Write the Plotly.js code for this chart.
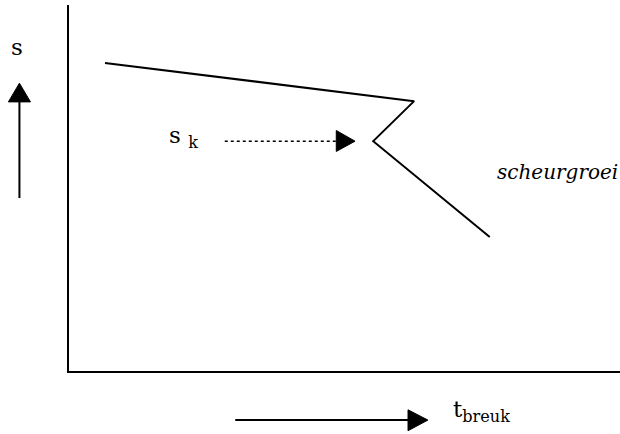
<!DOCTYPE html>
<html>
<head>
<meta charset="utf-8">
<script src="https://cdn.plot.ly/plotly-3.0.1.min.js"></script>
<style>
  html, body { margin: 0; padding: 0; background: #fff; }
  #chart { width: 620px; height: 434px; }
</style>
</head>
<body>
<div id="chart"></div>
<script>
// Schematic: stress s against time to fracture (t_breuk)
// units: axis corner is (0,0), axes run to 10

// the two drawn axes
const axisX = [0, 0, 10];
const axisY = [10, 0, 0];

// the stress curve with the kink (scheurgroei branch)
const curveX = [0.67, 6.27, 5.53, 7.64];
const curveY = [8.42, 7.38, 6.29, 3.68];

// arrow shafts
const sArrowX = [-0.88, -0.88];
const sArrowY = [4.74, 7.40];
const skArrowX = [2.84, 4.90];
const skArrowY = [6.29, 6.29];
const tArrowX = [3.03, 6.20];
const tArrowY = [-1.31, -1.31];

// arrow heads (triangles)
const sHeadX = [-1.08, -0.68, -0.88, -1.08];
const sHeadY = [7.36, 7.36, 7.87, 7.36];
const skHeadX = [4.86, 4.86, 5.20, 4.86];
const skHeadY = [6.58, 6.01, 6.29, 6.58];
const tHeadX = [6.16, 6.16, 6.52, 6.16];
const tHeadY = [-1.03, -1.60, -1.31, -1.03];

// labels
const labelText = ['s', 's <sub>k</sub>', '<i>scheurgroei</i>', 't<sub>breuk</sub>'];
const labelX = [-0.93, 1.79, 10.0, 6.93];
const labelY = [8.85, 6.40, 5.45, -1.05];
const labelAnchor = ['center', 'left', 'right', 'left'];
const labelSize = [23, 23, 20, 23];

// only serif face that resolves here
const serif = 'DejaVu Serif';

function line(x, y, dash) {
    return {
        x: x, y: y,
        mode: 'lines',
        line: { color: '#000', width: dash ? 1.5 : 2, dash: dash || 'solid' },
        hoverinfo: 'skip'
    };
}

function head(x, y) {
    return {
        x: x, y: y,
        mode: 'lines',
        fill: 'toself',
        fillcolor: '#000',
        line: { color: '#000', width: 1 },
        hoverinfo: 'skip'
    };
}

let data = [
    line(axisX, axisY),
    line(curveX, curveY),
    line(sArrowX, sArrowY),
    line(skArrowX, skArrowY, 'dot'),
    line(tArrowX, tArrowY),
    head(sHeadX, sHeadY),
    head(skHeadX, skHeadY),
    head(tHeadX, tHeadY)
];

let annotations = labelText.map((t, i) => ({
    x: labelX[i],
    y: labelY[i],
    xref: 'x',
    yref: 'y',
    text: t,
    showarrow: false,
    xanchor: labelAnchor[i],
    yanchor: 'middle',
    font: { family: serif, size: labelSize[i], color: '#000' }
}));

let layout = {
    width: 620,
    height: 434,
    margin: { l: 0, r: 0, t: 0, b: 0 },
    paper_bgcolor: '#fff',
    plot_bgcolor: '#fff',
    showlegend: false,
    hovermode: false,
    xaxis: {
        range: [-1.232, 10],
        visible: false,
        fixedrange: true
    },
    yaxis: {
        range: [-1.689, 10.136],
        visible: false,
        fixedrange: true
    },
    annotations: annotations
};

Plotly.newPlot('chart', data, layout, { staticPlot: true });
</script>
</body>
</html>
